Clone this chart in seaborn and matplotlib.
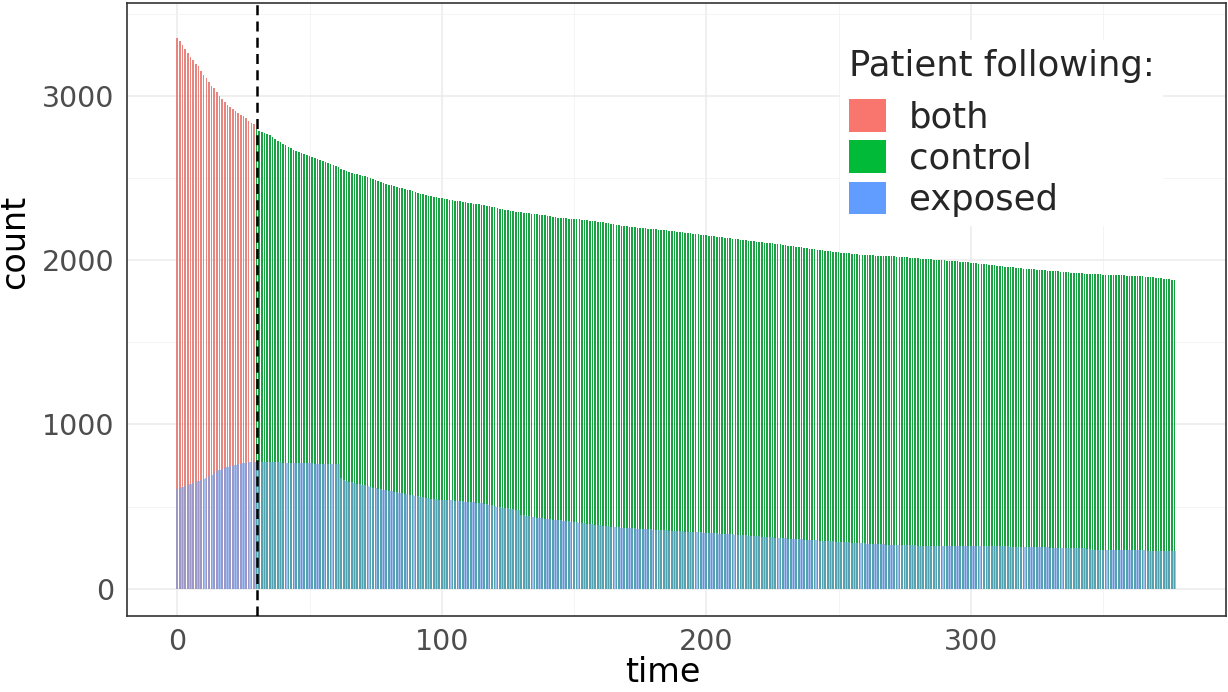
import numpy as np
import pandas as pd
import matplotlib
matplotlib.use("Agg")
import matplotlib.pyplot as plt
from matplotlib.patches import Patch
import seaborn as sns

# top bar per day: "both" for days 0-29, "control" from day 30 on
both_counts = [3352, 3330, 3310, 3285, 3260, 3235, 3215, 3195, 3178, 3150,
               3127, 3110, 3085, 3062, 3046, 3020, 3000, 2980, 2962, 2945,
               2932, 2920, 2908, 2893, 2884, 2878, 2862, 2845, 2836, 2828]

control_counts = [
    2795, 2788, 2781, 2774, 2767, 2758, 2748, 2737, 2726, 2716,
    2708, 2700, 2691, 2682, 2672, 2663, 2657, 2652, 2646, 2641,
    2634, 2627, 2620, 2613, 2607, 2600, 2594, 2588, 2582, 2576,
    2570, 2564, 2557, 2549, 2541, 2534, 2530, 2526, 2522, 2518,
    2514, 2509, 2503, 2497, 2491, 2485, 2480, 2475, 2469, 2464,
    2459, 2455, 2450, 2446, 2441, 2437, 2433, 2429, 2425, 2420,
    2415, 2410, 2405, 2400, 2395, 2390, 2387, 2384, 2382, 2379,
    2376, 2373, 2370, 2368, 2365, 2362, 2360, 2357, 2354, 2351,
    2349, 2346, 2344, 2342, 2339, 2337, 2334, 2332, 2328, 2325,
    2321, 2317, 2313, 2309, 2305, 2302, 2299, 2297, 2294, 2292,
    2290, 2288, 2286, 2284, 2282, 2280, 2278, 2277, 2275, 2272,
    2270, 2267, 2264, 2261, 2259, 2257, 2256, 2254, 2253, 2251,
    2250, 2249, 2247, 2245, 2243, 2241, 2240, 2238, 2236, 2234,
    2233, 2230, 2228, 2225, 2222, 2219, 2216, 2213, 2210, 2208,
    2206, 2204, 2202, 2200, 2198, 2196, 2195, 2193, 2192, 2190,
    2189, 2188, 2186, 2185, 2183, 2181, 2179, 2177, 2175, 2172,
    2170, 2168, 2166, 2164, 2162, 2160, 2158, 2156, 2155, 2153,
    2151, 2149, 2147, 2145, 2143, 2141, 2139, 2137, 2135, 2133,
    2131, 2129, 2127, 2125, 2123, 2121, 2119, 2117, 2115, 2113,
    2111, 2109, 2107, 2105, 2103, 2101, 2099, 2097, 2095, 2093,
    2090, 2087, 2085, 2083, 2081, 2079, 2077, 2074, 2072, 2069,
    2067, 2065, 2063, 2061, 2059, 2057, 2055, 2053, 2052, 2050,
    2048, 2046, 2045, 2043, 2041, 2039, 2037, 2035, 2033, 2031,
    2030, 2029, 2028, 2028, 2027, 2026, 2026, 2025, 2025, 2024,
    2023, 2022, 2021, 2020, 2018, 2017, 2016, 2015, 2013, 2012,
    2011, 2009, 2008, 2006, 2005, 2004, 2003, 2002, 2001, 1999,
    1998, 1997, 1996, 1994, 1993, 1992, 1990, 1989, 1987, 1986,
    1984, 1983, 1981, 1979, 1978, 1976, 1974, 1972, 1970, 1968,
    1966, 1964, 1962, 1960, 1958, 1957, 1955, 1953, 1951, 1949,
    1948, 1947, 1945, 1944, 1943, 1942, 1940, 1939, 1937, 1936,
    1935, 1934, 1932, 1931, 1929, 1928, 1927, 1926, 1924, 1923,
    1922, 1920, 1919, 1918, 1917, 1916, 1915, 1915, 1914, 1913,
    1912, 1911, 1911, 1910, 1910, 1909, 1908, 1908, 1907, 1906,
    1906, 1905, 1904, 1903, 1902, 1901, 1900, 1899, 1897, 1895,
    1893, 1891, 1889, 1887, 1885, 1883, 1880, 1877]

exposed_counts = [
    607, 612, 618, 624, 631, 638, 645, 652, 659, 664,
    668, 676, 685, 695, 706, 718, 724, 730, 736, 740,
    745, 750, 755, 759, 762, 765, 767, 769, 770, 771,
    772, 773, 772, 772, 771, 771, 770, 770, 769, 769,
    768, 768, 767, 767, 766, 766, 765, 765, 764, 764,
    763, 763, 762, 762, 761, 761, 760, 760, 759, 759,
    758, 758, 672, 665, 659, 653, 648, 644, 640, 637,
    634, 630, 626, 621, 616, 612, 608, 605, 602, 599,
    596, 593, 590, 588, 586, 583, 580, 577, 574, 571,
    568, 565, 561, 556, 553, 551, 549, 547, 545, 543,
    542, 541, 540, 539, 538, 536, 535, 533, 532, 530,
    529, 528, 527, 525, 523, 521, 519, 516, 513, 509,
    505, 501, 498, 495, 492, 490, 487, 485, 482, 479,
    452, 449, 446, 443, 440, 437, 434, 432, 430, 428,
    426, 424, 422, 420, 418, 416, 414, 412, 410, 408,
    406, 404, 402, 400, 398, 396, 394, 392, 390, 388,
    386, 384, 382, 380, 378, 376, 375, 374, 373, 372,
    371, 370, 369, 368, 367, 366, 365, 364, 363, 362,
    361, 360, 359, 358, 357, 356, 355, 354, 353, 352,
    351, 350, 349, 348, 347, 346, 345, 344, 343, 342,
    341, 340, 339, 338, 337, 336, 335, 334, 333, 332,
    331, 330, 328, 327, 326, 325, 324, 322, 321, 320,
    319, 318, 317, 315, 314, 313, 312, 311, 310, 309,
    308, 306, 305, 304, 303, 302, 301, 300, 299, 298,
    297, 296, 295, 294, 293, 292, 291, 290, 289, 288,
    287, 286, 285, 284, 283, 282, 281, 280, 279, 278,
    277, 276, 275, 274, 273, 272, 271, 270, 269, 268,
    268, 267, 267, 266, 266, 265, 265, 264, 264, 264,
    263, 263, 263, 263, 263, 263, 263, 263, 263, 263,
    263, 263, 263, 263, 263, 263, 263, 263, 262, 261,
    260, 260, 259, 259, 259, 259, 259, 259, 259, 259,
    259, 259, 259, 259, 258, 256, 253, 253, 253, 253,
    253, 253, 253, 253, 253, 253, 253, 253, 253, 252,
    250, 248, 247, 247, 247, 247, 247, 247, 247, 247,
    247, 247, 247, 246, 244, 240, 239, 239, 239, 239,
    239, 239, 239, 239, 239, 238, 237, 237, 237, 237,
    237, 237, 237, 237, 237, 236, 234, 232, 231, 230,
    230, 229, 229, 229, 229, 229, 229, 229]

groups = ["both", "control", "exposed"]
colors = ["#F8766D", "#00BA38", "#619CFF"]
cutoff_day = 30
x_ticks = [0, 100, 200, 300]
y_ticks = [0, 1000, 2000, 3000]

top_counts = both_counts + control_counts
days = list(range(len(top_counts)))
top_df = pd.DataFrame({
    "time": days,
    "count": top_counts,
    "group": ["both"] * len(both_counts) + ["control"] * len(control_counts),
})
exp_df = pd.DataFrame({"time": days, "count": exposed_counts, "group": "exposed"})

sns.set_style("white")
plt.rcParams["font.family"] = ["DejaVu Sans"]

fig = plt.figure(figsize=(12.28, 6.92), dpi=100)
ax = fig.add_axes([127 / 1228, 1 - 616 / 692, 1099 / 1228, 613 / 692])

sns.barplot(data=top_df, x="time", y="count", hue="group", native_scale=True,
            dodge=False, palette=dict(zip(groups[:2], colors[:2])),
            width=0.6, errorbar=None, linewidth=0, legend=False, ax=ax)
sns.barplot(data=exp_df, x="time", y="count", hue="group", native_scale=True,
            dodge=False, palette={"exposed": colors[2]}, alpha=0.65,
            width=0.85, errorbar=None, linewidth=0, legend=False, ax=ax)

ax.axvline(cutoff_day, color="black", linestyle=(0, (4, 2.5)), linewidth=1.8, zorder=5)

ax.set_xlim(-19, 396.5)
ax.set_ylim(-165, 3564)
ax.set_xticks(x_ticks)
ax.set_xticks([50, 150, 250, 350], minor=True)
ax.set_yticks(y_ticks)
ax.set_yticks([500, 1500, 2500, 3500], minor=True)
ax.set_xticklabels([str(t) for t in x_ticks])
ax.set_yticklabels([str(t) for t in y_ticks])
ax.grid(True, which="major", color="#EBEBEB", linewidth=1.1, zorder=0)
ax.grid(True, which="minor", color="#F3F3F3", linewidth=0.6, zorder=0)
ax.set_axisbelow(True)
ax.tick_params(axis="both", which="major", length=5, width=1.0, color="#333333",
               labelsize=20.5, labelcolor="#4D4D4D", pad=4)
ax.tick_params(axis="both", which="minor", length=0)
for s in ax.spines.values():
    s.set_color("#333333")
    s.set_linewidth(1.2)
ax.set_xlabel("time", fontsize=24, color="black")
ax.set_ylabel("count", fontsize=24, color="black")
ax.xaxis.set_label_coords(0.488, -0.066)
ax.yaxis.set_label_coords(-0.087, 0.61)

handles = [Patch(facecolor=c, edgecolor="none") for c in colors]
leg = ax.legend(handles, groups, title="Patient following:", loc="upper left",
                bbox_to_anchor=(822 / 1228, 1 - 22 / 692), bbox_transform=fig.transFigure,
                fontsize=25.5, title_fontsize=25.5, frameon=True, framealpha=1,
                facecolor="white", edgecolor="none", fancybox=False,
                handlelength=1.05, handleheight=1.05, handletextpad=0.65,
                labelspacing=0.16, borderpad=0.25, alignment="left")
leg._legend_box.sep = 12

fig.savefig("out.png", dpi=100)
